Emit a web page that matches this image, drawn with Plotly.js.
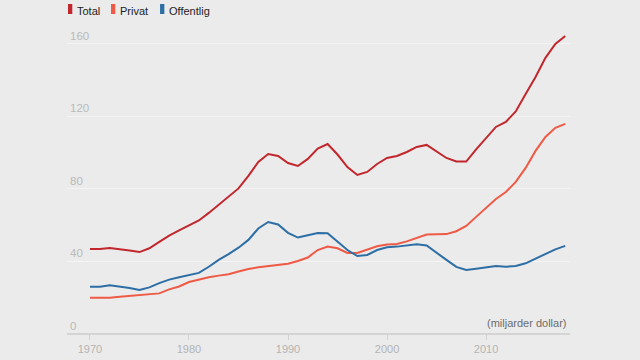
<!DOCTYPE html>
<html>
<head>
<meta charset="utf-8">
<script src="https://cdn.plot.ly/plotly-3.0.1.min.js"></script>
<style>
html,body{margin:0;padding:0;background:#ebebeb;}
#chart{width:640px;height:360px;}
</style>
</head>
<body>
<div id="chart"></div>
<script>
const years = [];
for (let y = 1970; y <= 2018; y++) years.push(y);

const total = [46.9,46.9,47.4,46.9,46.1,45.2,47.3,50.8,54.3,57.1,
  59.9,62.6,66.8,71.2,75.6,80.3,87.2,94.9,99.3,98.2,
  94.3,92.7,96.6,102.3,104.8,99.0,92.1,87.7,89.4,93.8,
  97.1,98.2,100.4,103.2,104.3,100.7,97.1,95.2,95.1,101.8,
  108.1,114.2,117.0,122.8,132.4,141.8,152.3,160.0,164.4];

const privat = [20.0,20.0,20.0,20.6,21.1,21.5,21.9,22.4,24.6,26.2,
  28.7,30.1,31.3,32.2,33.0,34.5,35.9,36.8,37.4,37.9,
  38.8,40.3,42.2,46.3,48.3,47.3,44.7,44.7,46.6,48.4,
  49.4,49.7,51.1,53.0,54.9,55.0,55.1,56.7,59.6,64.6,
  69.5,74.5,78.3,83.9,91.6,101.0,108.7,113.7,115.9];

const offentlig = [26.1,26.1,26.9,26.3,25.4,24.3,25.7,28.1,30.0,31.3,
  32.3,33.7,37.1,40.9,44.1,47.6,51.9,58.2,61.8,60.4,
  55.8,53.2,54.5,55.7,55.6,50.9,46.3,43.0,43.6,46.3,
  47.8,48.2,48.9,49.5,48.8,44.6,40.9,37.0,35.3,36.0,
  36.7,37.5,37.1,37.5,39.0,41.5,44.2,46.7,48.6];

const seriesNames = ["Total", "Privat", "Offentlig"];
const xTicks = [1970, 1980, 1990, 2000, 2010];
const yTicks = [0, 40, 80, 120, 160];
const unitLabel = "(miljarder dollar)";

const colors = ["#c1272d", "#ee5a45", "#2d6ea5"];
const seriesData = [total, privat, offentlig];

const traces = seriesData.map((vals, i) => ({
  x: years, y: vals, type: "scatter", mode: "lines",
  name: seriesNames[i],
  line: {color: colors[i], width: 2, shape: "linear"},
  hoverinfo: "skip"
}));

const legendX = [0.002, 0.0875, 0.185];
const shapes = legendX.map((lx, i) => ({
  type: "rect", xref: "paper", yref: "paper",
  x0: lx, x1: lx + 0.0085, y0: 1.0191, y1: 1.0510,
  fillcolor: colors[i], line: {width: 0}
}));

const annotations = seriesNames.map((n, i) => ({
  text: n, xref: "paper", yref: "paper",
  x: legendX[i] + 0.0135, y: 1.0287, xanchor: "left", yanchor: "middle",
  showarrow: false, font: {family: "Liberation Sans, Arial, sans-serif", size: 11, color: "#222"}
}));
annotations.push({
  text: unitLabel, xref: "paper", yref: "y",
  x: 0.996, y: 6, xanchor: "right", yanchor: "middle", showarrow: false,
  font: {family: "Liberation Sans, Arial, sans-serif", size: 11, color: "#6b6b6b"}
});

const layout = {
  width: 640, height: 360,
  margin: {l: 67, r: 70, t: 20, b: 26},
  paper_bgcolor: "#ebebeb", plot_bgcolor: "#ebebeb",
  showlegend: false,
  hovermode: false,
  font: {family: "Liberation Sans, Arial, sans-serif"},
  xaxis: {
    range: [1967.68, 2018.48],
    tickvals: xTicks, ticktext: xTicks.map(String),
    showgrid: false, zeroline: false, showline: false,
    ticks: "outside", ticklen: 5, tickwidth: 1, tickcolor: "#d2d2d2",
    tickfont: {size: 11, color: "#b4b4b4"}
  },
  yaxis: {
    range: [0, 173.2],
    tickvals: yTicks, ticktext: yTicks.map(String),
    ticklabelposition: "inside top",
    showgrid: true, gridcolor: "#f4f4f4", gridwidth: 1,
    zeroline: true, zerolinecolor: "#d4d4d4", zerolinewidth: 2,
    showline: false, ticks: "",
    tickfont: {size: 11.5, color: "#bababa"}
  },
  shapes: shapes,
  annotations: annotations
};

Plotly.newPlot("chart", traces, layout, {displayModeBar: false, staticPlot: true});
</script>
</body>
</html>
